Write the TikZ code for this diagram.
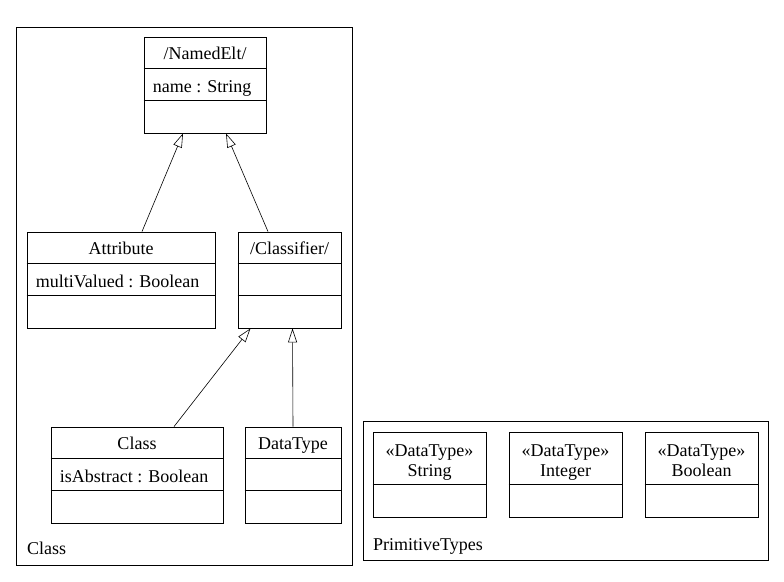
\documentclass[tikz,border=0pt]{standalone}
\usepackage{fontspec}
\setmainfont{Liberation Serif}
\usetikzlibrary{arrows.meta,calc}
\begin{document}
\begin{tikzpicture}[x=1pt,y=-1pt,
  every node/.style={font=\fontsize{18}{21}\selectfont},
  cls/.style={draw,line width=0.8pt,inner sep=0pt,minimum height=96pt},
  pkg/.style={draw,line width=0.8pt,inner sep=0pt},
  gen/.style={line width=0.6pt,-{Triangle[open,length=14pt,width=9pt]}},
  sep/.style={line width=0.8pt},
  ttl/.style={inner sep=0pt,anchor=base},
  att/.style={inner sep=0pt,anchor=base west},
  lbl/.style={inner sep=0pt,anchor=base west}]
\useasboundingbox (0,0) rectangle (784,581);
% packages
\node[pkg,minimum width=336pt,minimum height=538pt] (pclass) at (184,296) {};
\node[pkg,minimum width=405pt,minimum height=139pt] (pprim) at (565.5,490.5) {};
\node[lbl] (lclass) at (27,554) {Class};
\node[lbl] (lprim) at (373,550) {PrimitiveTypes};
% classes
\node[cls,minimum width=122pt] (named) at (205,85) {};
\node[cls,minimum width=188pt] (attr) at (121,280) {};
\node[cls,minimum width=103pt] (clsf) at (289.5,280) {};
\node[cls,minimum width=172pt] (klass) at (137,475) {};
\node[cls,minimum width=96pt] (dtype) at (293,475) {};
\foreach \n in {named,attr,clsf,klass,dtype}{
  \draw[sep] ([yshift=-32pt]\n.north west) -- ([yshift=-32pt]\n.north east);
  \draw[sep] ([yshift=-64pt]\n.north west) -- ([yshift=-64pt]\n.north east);
}
\node[ttl] (tnamed) at ([yshift=-22.5pt]named.north) {/NamedElt/};
\node[att] (anamed) at ([xshift=9pt,yshift=-55.5pt]named.north west) {name : String};
\node[ttl] (tattr) at ([yshift=-22.5pt]attr.north) {Attribute};
\node[att] (aattr) at ([xshift=9pt,yshift=-55.5pt]attr.north west) {multiValued : Boolean};
\node[ttl] (tclsf) at ([yshift=-22.5pt]clsf.north) {/Classifier/};
\node[ttl] (tklass) at ([yshift=-22.5pt]klass.north) {Class};
\node[att] (aklass) at ([xshift=9pt,yshift=-55.5pt]klass.north west) {isAbstract : Boolean};
\node[ttl] (tdtype) at ([yshift=-22.5pt]dtype.north) {DataType};
% primitive types
\node[cls,minimum width=113pt,minimum height=85pt] (pstr) at (429.5,474.5) {};
\node[cls,minimum width=113pt,minimum height=85pt] (pint) at (565.5,474.5) {};
\node[cls,minimum width=113pt,minimum height=85pt] (pbool) at (701.5,474.5) {};
\foreach \n/\t in {pstr/String,pint/Integer,pbool/Boolean}{
  \draw[sep] ([yshift=-53pt]\n.north west) -- ([yshift=-53pt]\n.north east);
  \node[ttl] (s\n) at ([yshift=-24.5pt]\n.north) {«DataType»};
  \node[ttl] (t\n) at ([yshift=-44.5pt]\n.north) {\t};
}
% generalizations
\draw[gen] ([xshift=21pt]attr.north) -- ([xshift=-22pt]named.south);
\draw[gen] ([xshift=-21.5pt]clsf.north) -- ([xshift=21pt]named.south);
\draw[gen] ([xshift=37pt]klass.north) -- ([xshift=-39pt]clsf.south);
\draw[gen] ([xshift=0pt]dtype.north) -- ([xshift=3pt]clsf.south);
\end{tikzpicture}
\end{document}
